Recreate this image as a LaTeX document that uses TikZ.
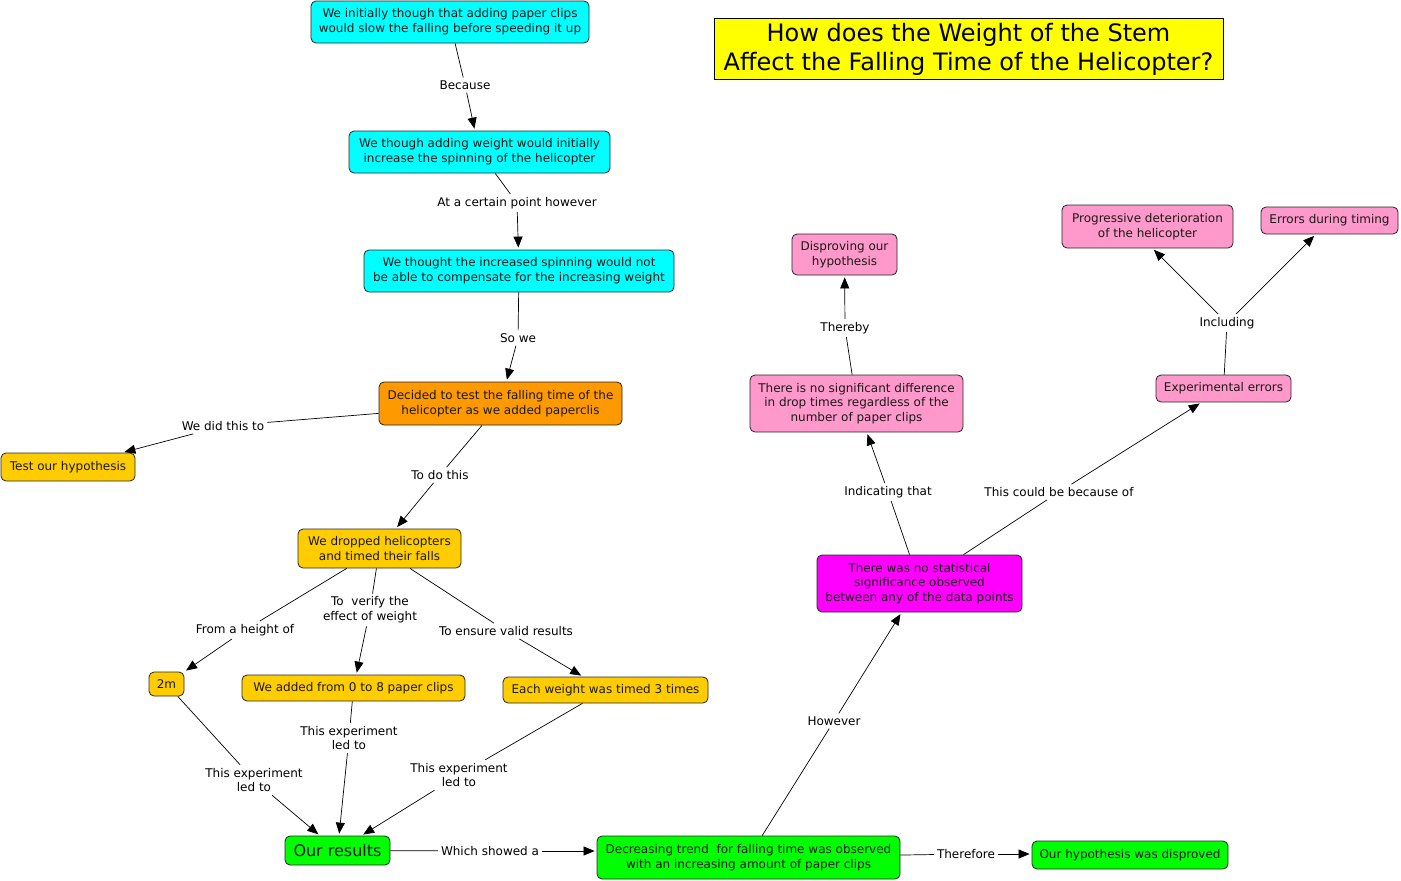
\documentclass[tikz,border=0pt]{standalone}
\usepackage{fontspec}
\setmainfont{DejaVu Sans}
\usetikzlibrary{arrows.meta}
\definecolor{cyanc}{HTML}{00FFFF}
\definecolor{orangec}{HTML}{FF9900}
\definecolor{goldc}{HTML}{FFCC00}
\definecolor{greenc}{HTML}{00FF00}
\definecolor{magc}{HTML}{FF00FF}
\definecolor{pinkc}{HTML}{FF99CC}
\definecolor{yellowc}{HTML}{FFFF00}
\begin{document}
\begin{tikzpicture}[x=1pt,y=-1pt,
  concept/.style={draw=black!85, line width=0.8pt, rounded corners=5pt, align=center,
    font=\fontsize{12}{14.8}\selectfont, inner sep=0pt, text=black!90},
  lab/.style={align=center, font=\fontsize{12}{14.8}\selectfont, inner sep=3pt},
  link/.style={draw=black, line width=0.7pt},
  arr/.style={link, -{Triangle[length=11pt,width=9pt]}, shorten >=2pt}]
\useasboundingbox (0,0) rectangle (1401,881);
\fill[white] (0,0) rectangle (1401,881);

% title
\node[draw=black, line width=0.8pt, fill=yellowc, minimum width=509pt, minimum height=61pt,
  align=center, font=\fontsize{24}{29}\selectfont, inner sep=0pt] (title) at (968.5,49)
  {How does the Weight of the Stem\\ Affect the Falling Time of the Helicopter?};

% concepts
\node[concept, fill=cyanc, minimum width=278pt, minimum height=42pt] (t1) at (450,22)
  {We initially though that adding paper clips\\would slow the falling before speeding it up};
\node[concept, fill=cyanc, minimum width=261pt, minimum height=42pt] (t2) at (479.5,152)
  {We though adding weight would initially\\ increase the spinning of the helicopter};
\node[concept, fill=cyanc, minimum width=310pt, minimum height=42pt] (t3) at (519,271)
  {We thought the increased spinning would not\\be able to compensate for the increasing weight};
\node[concept, fill=orangec, minimum width=243pt, minimum height=43pt] (dec) at (500.5,403.5)
  {Decided to test the falling time of the\\helicopter as we added paperclis};
\node[concept, fill=goldc, minimum width=134pt, minimum height=28pt] (test) at (68,467)
  {Test our hypothesis};
\node[concept, fill=goldc, minimum width=163pt, minimum height=39pt] (drop) at (379.5,548.5)
  {We dropped helicopters\\and timed their falls};
\node[concept, fill=goldc, minimum width=35pt, minimum height=24pt] (twom) at (166.5,684)
  {2m};
\node[concept, fill=goldc, minimum width=223pt, minimum height=26pt] (added) at (353.5,688)
  {We added from 0 to 8 paper clips};
\node[concept, fill=goldc, minimum width=205pt, minimum height=26pt] (each) at (605.5,690)
  {Each weight was timed 3 times};
\node[concept, fill=greenc, minimum width=105pt, minimum height=29pt,
  font=\fontsize{16}{18}\selectfont] (res) at (337.5,850.5) {Our results};
\node[concept, fill=greenc, minimum width=303pt, minimum height=43pt] (decr) at (748.5,857.5)
  {Decreasing trend\ \ for falling time was observed\\with an increasing amount of paper clips};
\node[concept, fill=greenc, minimum width=196pt, minimum height=28pt] (disp) at (1130,855)
  {Our hypothesis was disproved};
\node[concept, fill=magc, minimum width=205pt, minimum height=57pt] (nosig) at (919.5,583.5)
  {There was no statistical\\significance observed\\between any of the data points};
\node[concept, fill=pinkc, minimum width=213pt, minimum height=57pt] (ndiff) at (856.5,403.5)
  {There is no significant difference\\in drop times regardless of the\\number of paper clips};
\node[concept, fill=pinkc, minimum width=105pt, minimum height=41pt] (dhyp) at (844.5,254.5)
  {Disproving our\\hypothesis};
\node[concept, fill=pinkc, minimum width=135pt, minimum height=27pt] (experr) at (1223.5,388.5)
  {Experimental errors};
\node[concept, fill=pinkc, minimum width=171pt, minimum height=43pt] (prog) at (1147.5,226.5)
  {Progressive deterioration\\of the helicopter};
\node[concept, fill=pinkc, minimum width=137pt, minimum height=27pt] (errt) at (1329.5,220.5)
  {Errors during timing};
\coordinate (progin) at ([xshift=5pt]prog.south);

% linking phrases
\node[lab] (lBec) at (465,85) {Because};
\node[lab] (lAt) at (517,203) {At a certain point however};
\node[lab] (lSo) at (518,338) {So we};
\node[lab] (lDid) at (223,426) {We did this to};
\node[lab] (lDo) at (440,475) {To do this};
\node[lab] (lFrom) at (245,630) {From a height of};
\node[lab] (lVer) at (370,610) {To\ \ verify the\\effect of weight};
\node[lab] (lEns) at (506,631) {To ensure valid results};
\node[lab] (lE1) at (254,780) {This experiment\\led to};
\node[lab] (lE2) at (349,738) {This experiment\\led to};
\node[lab] (lE3) at (459,775) {This experiment\\led to};
\node[lab] (lWhich) at (490,851) {Which showed a};
\node[lab] (lThere) at (966,854) {Therefore};
\node[lab] (lHow) at (834,721) {However};
\node[lab] (lInd) at (888,492) {Indicating that};
\node[lab] (lCould) at (1059,492) {This could be because of};
\node[lab] (lThby) at (845,328) {Thereby};
\node[lab] (lIncl) at (1227,323) {Including};

% connectors
\draw[link] (t1) -- (lBec); \draw[arr] (lBec) -- (t2);
\draw[link] (t2) -- (lAt); \draw[arr] (lAt) -- (t3);
\draw[link] (t3) -- (lSo); \draw[arr] (lSo) -- (dec);
\draw[link] (dec) -- (lDid); \draw[arr] (lDid) -- (test);
\draw[link] (dec) -- (lDo); \draw[arr] (lDo) -- (drop);
\draw[link] (drop) -- (lFrom); \draw[arr] (lFrom) -- (twom);
\draw[link] (drop) -- (lVer); \draw[arr] (lVer) -- (added);
\draw[link] (drop) -- (lEns); \draw[arr] (lEns) -- (each);
\draw[link] (twom) -- (lE1); \draw[arr] (lE1) -- (res);
\draw[link] (added) -- (lE2); \draw[arr] (lE2) -- (res);
\draw[link] (each) -- (lE3); \draw[arr] (lE3) -- (res);
\draw[link] (res) -- (lWhich); \draw[arr] (lWhich) -- (decr.west |- lWhich);
\draw[link] (decr) -- (lThere); \draw[arr] (lThere) -- (disp.west |- lThere);
\draw[link] (decr) -- (lHow); \draw[arr] (lHow) -- (nosig);
\draw[link] (nosig) -- (lInd); \draw[arr] (lInd) -- (ndiff);
\draw[link] (nosig) -- (lCould); \draw[arr] (lCould) -- (experr);
\draw[link] (ndiff) -- (lThby); \draw[arr] (lThby) -- (dhyp);
\draw[link] (experr) -- (lIncl); \draw[arr] (lIncl) -- (progin); \draw[arr] (lIncl) -- (errt);
\end{tikzpicture}
\end{document}
